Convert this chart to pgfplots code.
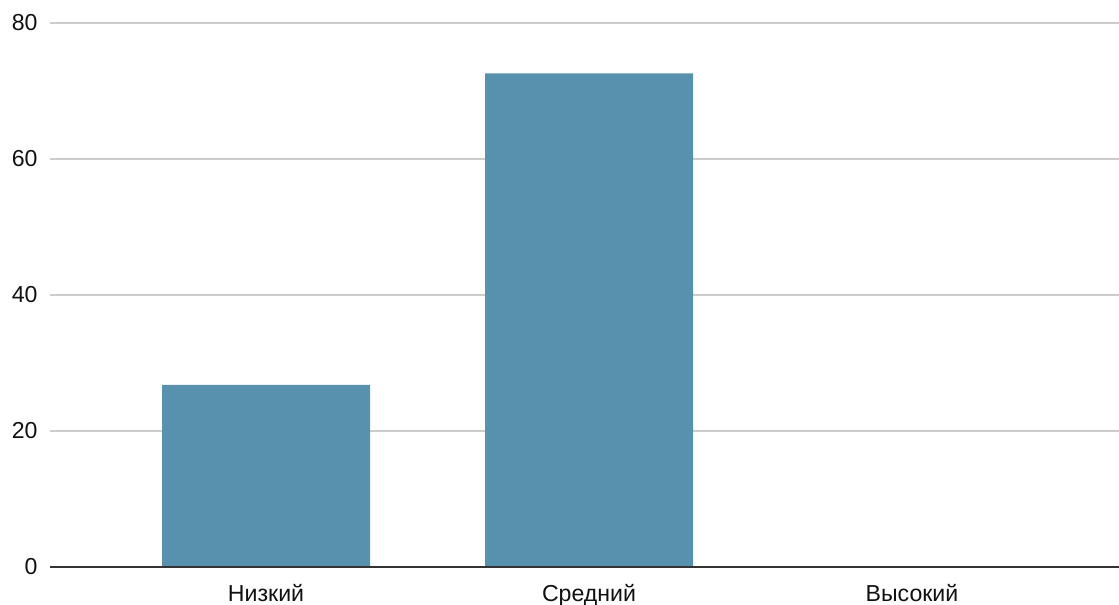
\documentclass[border=0pt]{standalone}
\usepackage{pgfplots}
\pgfplotsset{compat=1.18}
\usepackage{fontspec}
\setmainfont{Liberation Sans}
\definecolor{barc}{HTML}{5891AD}
\definecolor{gridc}{HTML}{CCCCCC}
\definecolor{axc}{HTML}{333333}
\definecolor{txt}{HTML}{111111}
\begin{document}
\begin{tikzpicture}
\path[use as bounding box] (-50bp,-38bp) rectangle (1069bp,567bp);
\begin{axis}[
  at={(0,0)}, anchor=south west,
  scale only axis,
  width=1069bp, height=544bp,
  xmin=-0.669, xmax=2.641,
  ymin=0, ymax=80,
  ytick={0,20,40,60,80},
  xtick={0,1,2},
  xticklabels={Низкий,Средний,Высокий},
  axis x line*=bottom,
  axis y line*=left,
  axis line style={draw=none},
  ymajorgrids,
  grid style={gridc, line width=1.3bp},
  major tick length=0pt,
  /pgf/number format/assume math mode=true,
  ticklabel style={font=\fontsize{23.2}{27}\selectfont, text=txt},
  yticklabel style={xshift=-9bp},
  xticklabel style={yshift=-14bp},
  clip=false,
]
\addplot[ybar, bar width=208bp, fill=barc, draw=none] coordinates {(0,26.8) (1,72.6) (2,0)};
\draw[axc, line width=1.6bp] (axis cs:-0.669,0) -- (axis cs:2.641,0);
\end{axis}
\end{tikzpicture}
\end{document}
